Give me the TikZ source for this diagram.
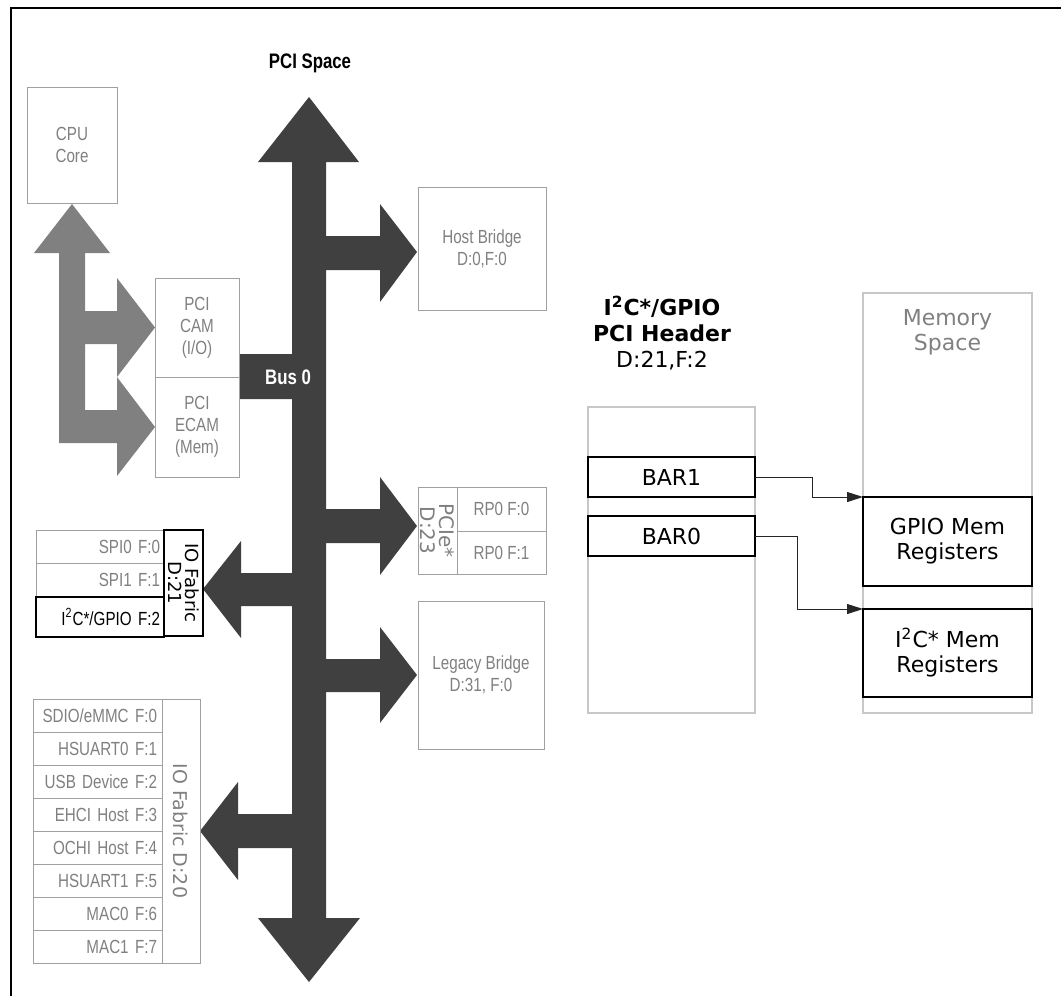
\documentclass[tikz,border=0pt]{standalone}
\usepackage{fontspec}
\setmainfont{DejaVu Sans}
\newfontfamily\narrowfont[FakeStretch=0.8]{Liberation Sans}
\usetikzlibrary{arrows.meta}
\definecolor{busdark}{HTML}{404040}
\definecolor{busgray}{HTML}{808080}
\definecolor{boxgray}{HTML}{A0A0A0}
\definecolor{linegray}{HTML}{C8C8C8}
\definecolor{txtgray}{HTML}{808080}
\begin{document}
\begin{tikzpicture}[x=0.5pt, y=-0.5pt, >={Triangle[length=8pt,width=5pt]}, line join=miter,
	gbox/.style={draw=boxgray, line width=0.5pt, text=txtgray, font=\narrowfont\fontsize{9.5}{11}\selectfont, align=center, inner sep=0pt, outer sep=0pt},
	rowbox/.style={gbox, align=right, inner xsep=2.5pt, text width=59.5pt, minimum height=16.5pt},
	blkbox/.style={draw=black, line width=0.7pt, text=black, fill=white, align=center, inner sep=0pt, outer sep=0pt, font=\fontsize{11}{12.5}\selectfont},
	rotlbl/.style={rotate=-90, align=center, inner sep=0pt, outer sep=0pt},
	conn/.style={->, line width=0.5pt, draw=black!85}]
	\useasboundingbox (0,0) rectangle (1061,996);
	% frame
	\draw[line width=1.2pt] (1061,8) -- (11,8) -- (11,996);
	
	% gray arrows CPU <-> CAM/ECAM
	\fill[busgray] (72,204) -- (110,253) -- (85,253) -- (85,311) -- (117,311) -- (117,278) -- (155,327.5)
		-- (117,377) -- (117,344) -- (85,344) -- (85,410) -- (117,410) -- (117,377) -- (155,427)
		-- (117,476) -- (117,443) -- (59,443) -- (59,253) -- (34,253) -- cycle;
	
	% PCI bus
	\fill[busdark] (309,97) -- (359,162) -- (326,162) -- (326,236) -- (380,236) -- (380,204) -- (417,252)
		-- (380,302) -- (380,270) -- (326,270) -- (326,509) -- (380,509) -- (380,477) -- (417,526)
		-- (380,575) -- (380,543) -- (326,543) -- (326,659) -- (380,659) -- (380,627) -- (417,675)
		-- (380,723) -- (380,692) -- (326,692) -- (326,918) -- (360,918) -- (309,982) -- (258,918)
		-- (292,918) -- (292,848) -- (238,848) -- (238,880) -- (200,831) -- (238,782) -- (238,814)
		-- (292,814) -- (292,606) -- (241,606) -- (241,638) -- (203,589) -- (241,541) -- (241,573)
		-- (292,573) -- (292,399) -- (239,399) -- (239,354) -- (292,354) -- (292,162) -- (258,162) -- cycle;
	\node[text=black, font=\narrowfont\bfseries\fontsize{10.5}{11}\selectfont] (pcispace) at (310,63) {PCI Space};
	\node[text=white, font=\narrowfont\bfseries\fontsize{10.5}{11}\selectfont] (bus0) at (288,377) {Bus 0};
	
	% boxes on the bus
	\node[gbox, minimum width=45pt, minimum height=58pt] (cpu) at (72,145) {CPU\\Core};
	\node[gbox, minimum width=42pt, minimum height=49.5pt] (cam) at (197,327.5) {PCI\\CAM\\(I/O)};
	\node[gbox, minimum width=42pt, minimum height=50pt] (ecam) at (197,427) {PCI\\ECAM\\(Mem)};
	\node[gbox, minimum width=64pt, minimum height=61.5pt] (host) at (482,248.5) {Host Bridge\\D:0,F:0};
	\node[gbox, rotlbl, minimum width=43.5pt, minimum height=19.5pt, font=\fontsize{10}{9.5}\selectfont] (pcielbl) at (437.5,530.5) {PCIe*\\D:23};
	\node[gbox, minimum width=44.5pt, minimum height=22pt] (rp0) at (501.5,509) {RP0 F:0};
	\node[gbox, minimum width=44.5pt, minimum height=21.5pt] (rp1) at (501.5,552.5) {RP0 F:1};
	\node[gbox, minimum width=63pt, minimum height=74pt] (legacy) at (481,675) {Legacy Bridge\\D:31, F:0};
	
	% IO Fabric D:21
	\node[rowbox, text width=60pt, inner xsep=2pt] (spi0) at (100,546.5) {SPI0 F:0};
	\node[rowbox, text width=60pt, inner xsep=2pt] (spi1) at (100,580) {SPI1 F:1};
	\node[rowbox, text width=60pt, inner xsep=2pt, draw=black, text=black, line width=0.7pt, minimum height=20pt] (i2cgpio) at (100,617) {I\textsuperscript{2}C*/GPIO F:2};
	\node[rotlbl, draw=black, line width=0.7pt, minimum width=53pt, minimum height=19.5pt, font=\fontsize{9}{8.5}\selectfont] (fab21) at (183.5,583) {IO Fabric\\D:21};
	
	% IO Fabric D:20
	\foreach \t [count=\i from 0] in {SDIO/eMMC F:0, HSUART0 F:1, USB Device F:2, EHCI Host F:3, OCHI Host F:4, HSUART1 F:5, MAC0 F:6, MAC1 F:7}
		\node[rowbox] (f20r\i) at (97.5,{715.5+33*\i}) {\t};
	\node[gbox, rotlbl, minimum width=132pt, minimum height=19pt, font=\fontsize{9.5}{11}\selectfont] (fab20) at (181,831) {IO Fabric D:20};
	
	% PCI header and memory space
	\node[align=center, font=\fontsize{11}{13}\selectfont] (hdrtitle) at (662,333) {\textbf{I\textsuperscript{2}C*/GPIO}\\\textbf{PCI Header}\\D:21,F:2};
	\node[draw=linegray, line width=0.6pt, minimum width=83.5pt, minimum height=153pt, inner sep=0pt, outer sep=0pt] (hdr) at (671.5,560) {};
	\node[blkbox, minimum width=83.5pt, minimum height=20pt] (bar1) at (671.5,477) {BAR1};
	\node[blkbox, minimum width=83.5pt, minimum height=20pt] (bar0) at (671.5,536) {BAR0};
	\node[draw=linegray, line width=0.6pt, minimum width=84.5pt, minimum height=210pt, inner sep=0pt, outer sep=0pt] (mem) at (947.5,503) {};
	\node[text=txtgray, align=center, font=\fontsize{11}{12.5}\selectfont] (memlbl) at (947.5,332) {Memory\\Space};
	\node[blkbox, minimum width=84.5pt, minimum height=44.5pt] (gpiomem) at (947.5,541.5) {GPIO Mem\\Registers};
	\node[blkbox, minimum width=84.5pt, minimum height=44pt] (i2cmem) at (947.5,653) {I\textsuperscript{2}C* Mem\\Registers};
	
	\draw[conn] (bar1.east) -- ++(57,0) |- (gpiomem.north west);
	\draw[conn] (bar0.east) -- ++(42,0) |- (i2cmem.north west);
\end{tikzpicture}
\end{document}
